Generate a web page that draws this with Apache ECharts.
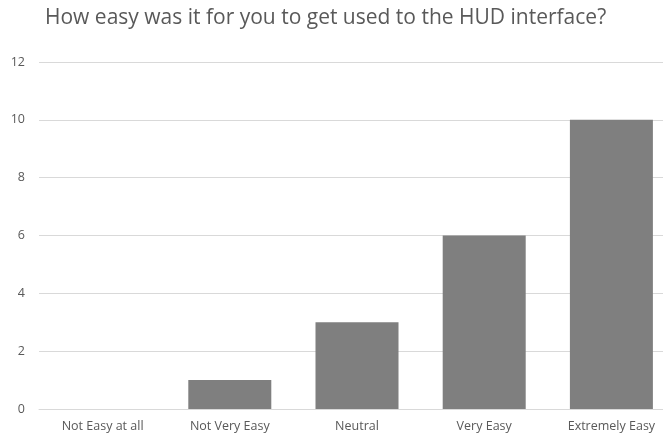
<!DOCTYPE html>
<html><head><meta charset="utf-8">
<script src="https://cdn.jsdelivr.net/npm/echarts@6/dist/echarts.min.js"></script>
<style>html,body{margin:0;padding:0;background:#fff;overflow:hidden}#c{width:676px;height:436px}</style>
</head><body><div id="c"></div>
<script>
const categories = ["Not Easy at all", "Not Very Easy", "Neutral", "Very Easy", "Extremely Easy"];
const values = [0, 1, 3, 6, 10];
const yTicks = [0, 2, 4, 6, 8, 10, 12];
const titleText = "How easy was it for you to get used to the HUD interface?";

const chart = echarts.init(document.getElementById('c'), null, {renderer: 'canvas'});
chart.setOption({
  animation: false,
  backgroundColor: '#ffffff',
  title: {
    text: titleText, left: 40, top: 3,
    textStyle: {fontFamily: 'Open Sans', fontSize: 21, fontWeight: 'normal', color: '#595959'}
  },
  grid: {left: 39, top: 62, width: 636, height: 347, containLabel: false},
  xAxis: {
    type: 'category', data: categories,
    axisLine: {show: true, lineStyle: {color: '#d9d9d9'}},
    axisTick: {show: false},
    axisLabel: {color: '#595959', fontFamily: 'Open Sans', fontSize: 12.5, margin: 11}
  },
  yAxis: {
    type: 'value', min: yTicks[0], max: yTicks[yTicks.length - 1], interval: 2,
    axisLine: {show: false}, axisTick: {show: false},
    splitLine: {lineStyle: {color: '#d9d9d9'}},
    axisLabel: {color: '#595959', fontFamily: 'Open Sans', fontSize: 12.5, margin: 14}
  },
  series: [{
    type: 'bar', data: values, barWidth: 83,
    itemStyle: {color: '#7f7f7f'}
  }]
});
</script></body></html>
